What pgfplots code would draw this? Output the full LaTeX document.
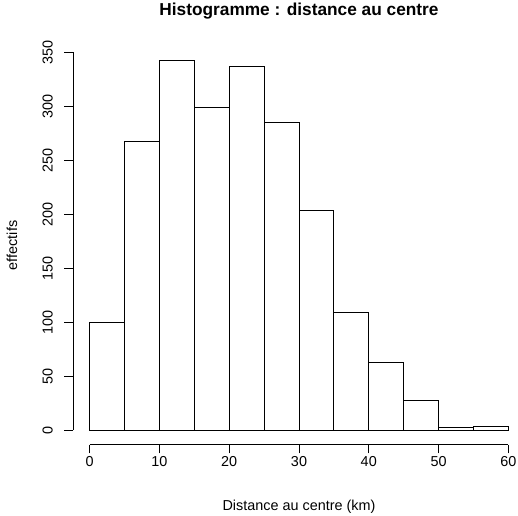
\documentclass[border=0pt]{standalone}
\usepackage{fontspec}
\setmainfont{Liberation Sans}
\usepackage{pgfplots}
\pgfplotsset{compat=1.18}
\begin{document}
\begin{tikzpicture}
\begin{axis}[
  scale only axis,
  width=452pt, height=398.9pt,
  xmin=-2.4, xmax=62.4, ymin=-13.68, ymax=355.68,
  axis x line*=bottom, axis y line*=left,
  x axis line style={line width=0.9pt, shorten <=16.74pt, shorten >=16.74pt},
  y axis line style={line width=0.9pt, shorten <=14.77pt, shorten >=6.13pt},
  xtick={0,10,...,60}, ytick={0,50,...,350},
  tick align=outside, major tick length=8.64pt,
  tick style={black, line width=0.9pt},
  /pgf/number format/assume math mode=true,
  every tick label/.append style={font=\fontsize{14.4}{17}\selectfont},
  xticklabel style={anchor=center, yshift=-8.56pt},
  yticklabel style={xshift=-16.66pt, rotate=90, anchor=center},
  title={Histogramme : distance au centre},
  title style={font=\fontsize{17.28}{20.7}\selectfont\bfseries, at={([yshift=28.5pt]axis description cs:0.5,1)}, anchor=center},
  xlabel={Distance au centre (km)},
  xlabel style={font=\fontsize{14.4}{17}\selectfont, at={([yshift=-62pt]axis description cs:0.5,0)}, anchor=center},
  ylabel={effectifs},
  ylabel style={font=\fontsize{14.4}{17}\selectfont, at={([xshift=-61pt]axis description cs:0,0.5)}, anchor=center, rotate=0},
]
\addplot[ybar interval, fill=white, draw=black, line width=0.9pt] coordinates {
  (0,100) (5,267) (10,342) (15,299) (20,337) (25,285)
  (30,203) (35,109) (40,63) (45,27) (50,2) (55,3) (60,3)
};
\coordinate (nw) at (rel axis cs:0,1);
\end{axis}
\pgfresetboundingbox
\path[use as bounding box] ([xshift=-73pt,yshift=45.9pt]nw) rectangle ++(518pt,-515pt);
\end{tikzpicture}
\end{document}
